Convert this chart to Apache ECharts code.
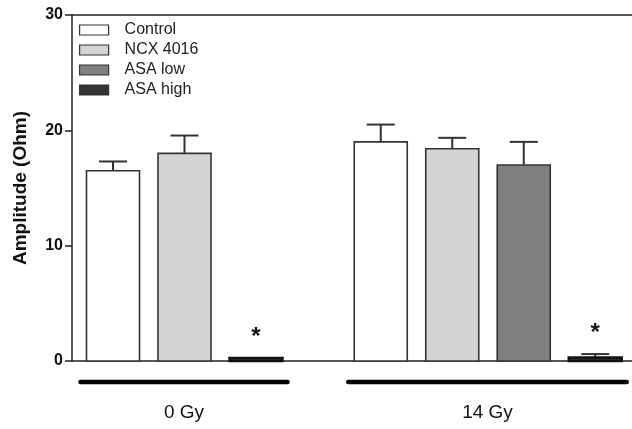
<!DOCTYPE html>
<html>
<head>
<meta charset="utf-8">
<script src="https://cdn.jsdelivr.net/npm/echarts@6/dist/echarts.min.js"></script>
<style>html,body{margin:0;padding:0;background:#fff}#c{width:632px;height:429px}</style>
</head>
<body>
<div id="c"></div>
<script>
// ---- data ----
const groups = ['0 Gy', '14 Gy'];
const treatments = ['Control', 'NCX 4016', 'ASA low', 'ASA high'];
const controlVals = [16.5, 19.0];
const controlErr = [0.8, 1.5];
const ncxVals = [18.0, 18.4];
const ncxErr = [1.55, 0.95];
const asaLowVals = [null, 17.0];
const asaLowErr = [null, 2.0];
const asaHighVals = [0.25, 0.3];
const asaHighErr = [0, 0.3];
const asaHighSig = [true, true];
const yTicks = [0, 10, 20, 30];

// ---- layout ----
const colors = ['#ffffff', '#d4d4d4', '#808080', '#333333'];
const groupCenter = [112.5, 416];   // in x-axis units (hidden axis)
const slotSpacing = 71.5;
const barW = 53;

const allVals = [controlVals, ncxVals, asaLowVals, asaHighVals];
const allErr = [controlErr, ncxErr, asaLowErr, asaHighErr];
const allSig = [[false, false], [false, false], [false, false], asaHighSig];

function slotsInGroup(g) {
  const s = [];
  for (let t = 0; t < treatments.length; t++) if (allVals[t][g] != null) s.push(t);
  return s;
}
function centerOf(g, t) {
  const s = slotsInGroup(g);
  const i = s.indexOf(t);
  return groupCenter[g] + (i - (s.length - 1) / 2) * slotSpacing;
}

function makeSeries(t) {
  const data = [];
  groups.forEach((g, gi) => {
    if (allVals[t][gi] != null) data.push([gi, allVals[t][gi], allErr[t][gi] || 0, allSig[t][gi] ? 1 : 0]);
  });
  return {
    type: 'custom',
    name: treatments[t],
    xAxisIndex: 0,
    clip: false,
    itemStyle: { color: colors[t], borderColor: '#333', borderWidth: 1 },
    data: data,
    renderItem: function (params, api) {
      const gi = api.value(0), v = api.value(1), e = api.value(2), sig = api.value(3);
      const cx = centerOf(gi, t);
      const p0 = api.coord([cx - barW / 2, v]);
      const p1 = api.coord([cx + barW / 2, 0]);
      const children = [];
      const top = api.coord([cx, v]);
      const etop = api.coord([cx, v + e]);
      const capHalf = 14;
      if (e > 0) {
        children.push({ type: 'line', shape: { x1: top[0], y1: top[1], x2: etop[0], y2: etop[1] }, style: { stroke: '#333', lineWidth: 2 } });
        children.push({ type: 'line', shape: { x1: etop[0] - capHalf, y1: etop[1], x2: etop[0] + capHalf, y2: etop[1] }, style: { stroke: '#333', lineWidth: 2 } });
      }
      children.push({
        type: 'rect',
        shape: { x: p0[0], y: p0[1], width: p1[0] - p0[0], height: p1[1] - p0[1] },
        style: { fill: colors[t], stroke: t === 3 ? '#111' : '#333', lineWidth: t === 3 ? 2.5 : 1.6 }
      });
      if (sig) {
        children.push({ type: 'text', style: { text: '*', x: etop[0], y: etop[1] - 21, align: 'center', verticalAlign: 'middle', font: 'bold 24px "Liberation Sans", Arial, sans-serif', fill: '#111' } });
      }
      return { type: 'group', children: children };
    }
  };
}

const groupSeries = {
  type: 'custom',
  name: 'groups',
  xAxisIndex: 0,
  clip: false,
  silent: true,
  data: groups.map((g, gi) => [gi]),
  renderItem: function (params, api) {
    const gi = api.value(0);
    const s = slotsInGroup(gi);
    const l = centerOf(gi, s[0]) - barW / 2 - 6;
    const r = centerOf(gi, s[s.length - 1]) + barW / 2 + 5;
    const pl = api.coord([l, 0]);
    const pr = api.coord([r, 0]);
    const y = pl[1] + 21;
    return {
      type: 'group', children: [
        { type: 'line', shape: { x1: pl[0], y1: y, x2: pr[0], y2: y }, style: { stroke: '#000', lineWidth: 4.5, lineCap: 'round' } },
        { type: 'text', style: { text: groups[gi], x: (pl[0] + pr[0]) / 2, y: pl[1] + 52, align: 'center', verticalAlign: 'middle', font: '19px "Liberation Sans", Arial, sans-serif', fill: '#111' } }
      ]
    };
  }
};

const chart = echarts.init(document.getElementById('c'), null, { renderer: 'canvas' });
chart.setOption({
  animation: false,
  backgroundColor: '#fff',
  grid: { left: 72, right: 0, top: 15, bottom: 68 },
  legend: {
    orient: 'vertical', left: 79, top: 21, itemWidth: 29, itemHeight: 10, itemGap: 2, padding: 0,
    icon: 'rect', selectedMode: false,
    data: treatments.map((n, i) => ({ name: n, itemStyle: { color: colors[i], borderColor: '#333', borderWidth: 1.2 } })),
    textStyle: { fontFamily: '"Liberation Sans", Arial, sans-serif', fontSize: 16, color: '#222', padding: [0, 0, 0, 11], lineHeight: 18 }
  },
  xAxis: [
    { type: 'value', min: 0, max: 560, position: 'bottom', axisLine: { show: true, onZero: false, lineStyle: { color: '#222', width: 1.5 } }, axisTick: { show: false }, axisLabel: { show: false }, splitLine: { show: false } },
    { type: 'value', min: 0, max: 560, position: 'top', axisLine: { show: true, onZero: false, lineStyle: { color: '#222', width: 1.5 } }, axisTick: { show: false }, axisLabel: { show: false }, splitLine: { show: false } }
  ],
  yAxis: {
    type: 'value', min: yTicks[0], max: yTicks[yTicks.length - 1], interval: 10,
    name: 'Amplitude (Ohm)', nameLocation: 'middle', nameGap: 42,
    nameTextStyle: { fontFamily: '"Liberation Sans", Arial, sans-serif', fontSize: 19, fontWeight: 'bold', color: '#111' },
    axisLine: { show: true, lineStyle: { color: '#222', width: 1.5 } },
    axisTick: { show: true, length: 7, lineStyle: { color: '#222', width: 1.5 } },
    axisLabel: { margin: 9, fontFamily: '"Liberation Sans", Arial, sans-serif', fontSize: 16, fontWeight: 'bold', color: '#111' },
    splitLine: { show: false }
  },
  series: [makeSeries(0), makeSeries(1), makeSeries(2), makeSeries(3), groupSeries]
});
</script>
</body>
</html>
